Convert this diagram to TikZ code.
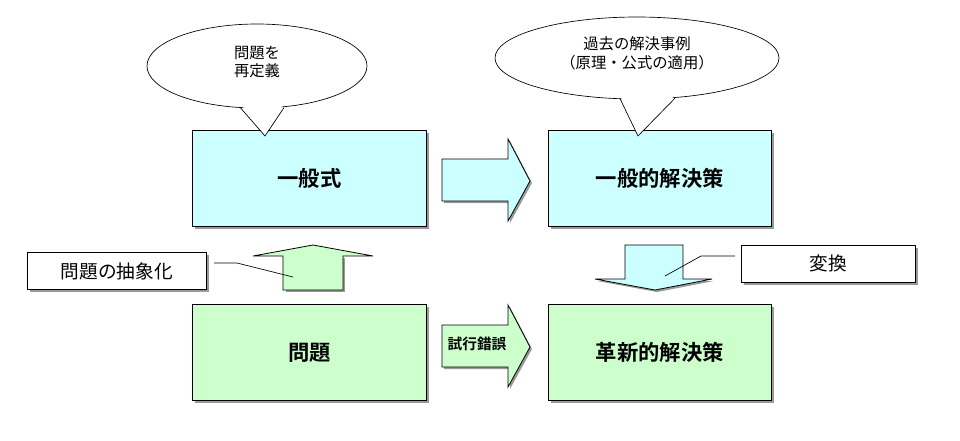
\documentclass[tikz,border=0pt]{standalone}
\usepackage{fontspec}
\setmainfont{Noto Sans CJK JP}[BoldFont=* Bold]
\begin{document}
\begin{tikzpicture}[x=0.75pt,y=-0.75pt,
  box/.style={draw=black,line width=0.6pt},
  big/.style={font=\fontsize{16pt}{18pt}\selectfont\bfseries},
  lab/.style={font=\fontsize{14pt}{16pt}\selectfont},
  sm/.style={font=\fontsize{11.5pt}{14pt}\selectfont,align=center}]
\useasboundingbox (0,0) rectangle (960,440);
\definecolor{cy}{HTML}{CCFFFF}
\definecolor{gr}{HTML}{CCFFCC}
\colorlet{sh}{gray!80}
% shadows
\foreach \a/\b/\c/\d in {192/130/426/226,548/130/771/226,192/304/426/400,548/304/771/400,27/252/206/289,741/245/915/282}
  \fill[sh] (\a+3,\b+3) rectangle (\c+3,\d+3);
\node[box,fill=cy,minimum width=175.5pt,minimum height=72pt,anchor=north west,big] (g) at (192,130) {一般式};
\node[box,fill=cy,minimum width=167.25pt,minimum height=72pt,anchor=north west,big] (gs) at (548,130) {一般的解決策};
\node[box,fill=gr,minimum width=175.5pt,minimum height=72pt,anchor=north west,big] (p) at (192,304) {問題};
\node[box,fill=gr,minimum width=167.25pt,minimum height=72pt,anchor=north west,big] (ks) at (548,304) {革新的解決策};
\node[box,fill=white,minimum width=134.25pt,minimum height=27.75pt,anchor=north west,lab] (abs) at (27,252) {問題の抽象化};
\node[box,fill=white,minimum width=130.5pt,minimum height=27.75pt,anchor=north west,lab] (hen) at (741,245) {変換};
% right arrows
\fill[sh] (444,161) -- (510,161) -- (510,141) -- (532,183) -- (510,223) -- (510,203) -- (444,203) -- cycle;
\fill[sh] (444,327) -- (510,327) -- (510,307) -- (532,349) -- (510,389) -- (510,369) -- (444,369) -- cycle;
\draw[box,fill=cy] (442,159) -- (508,159) -- (508,139) -- (530,181) -- (508,221) -- (508,201) -- (442,201) -- cycle;
\draw[box,fill=gr] (442,325) -- (508,325) -- (508,305) -- (530,347) -- (508,387) -- (508,367) -- (442,367) -- cycle;
\node[font=\fontsize{11pt}{12pt}\selectfont\bfseries] (sk) at (477,344) {試行錯誤};
% up arrow
\fill[sh] (286,258) -- (286,292) -- (345,292) -- (345,258) -- cycle;
\draw[box,fill=gr] (283,290) -- (283,256) -- (253,256) -- (313,245) -- (373,256) -- (343,256) -- (343,290) -- cycle;
% down arrow
\fill[sh] (597,281) -- (657,292) -- (714,281) -- cycle;
\draw[box,fill=cy] (625,245) -- (683,245) -- (683,279) -- (712,279) -- (655,290) -- (595,279) -- (625,279) -- cycle;
% label connectors
\coordinate (ua) at (293,277);
\coordinate (da) at (665,276);
\coordinate (a1) at (214,263);
\coordinate (h1) at (735,256);
\draw[line width=0.5pt] (a1) -- (237,263) -- (ua);
\draw[line width=0.5pt] (h1) -- (701,256) -- (da);
% callouts
\draw[line width=0.5pt,fill=white] (257,66) ellipse[x radius=110,y radius=42];
\fill[white] (240,103) -- (265,136) -- (284,103) -- cycle;
\draw[line width=0.5pt] (240,107.3) -- (265,136) -- (284,107.6);
\node[sm] (c1) at (257,62) {問題を\\再定義};
\draw[line width=0.5pt,fill=white] (637,58) ellipse[x radius=142,y radius=41];
\fill[white] (620,95) -- (638,136) -- (675,95) -- cycle;
\draw[line width=0.5pt] (620,98.6) -- (638,136) -- (675,98.2);
\node[sm] (c2) at (637,53) {過去の解決事例\\（原理・公式の適用）};
\end{tikzpicture}
\end{document}
